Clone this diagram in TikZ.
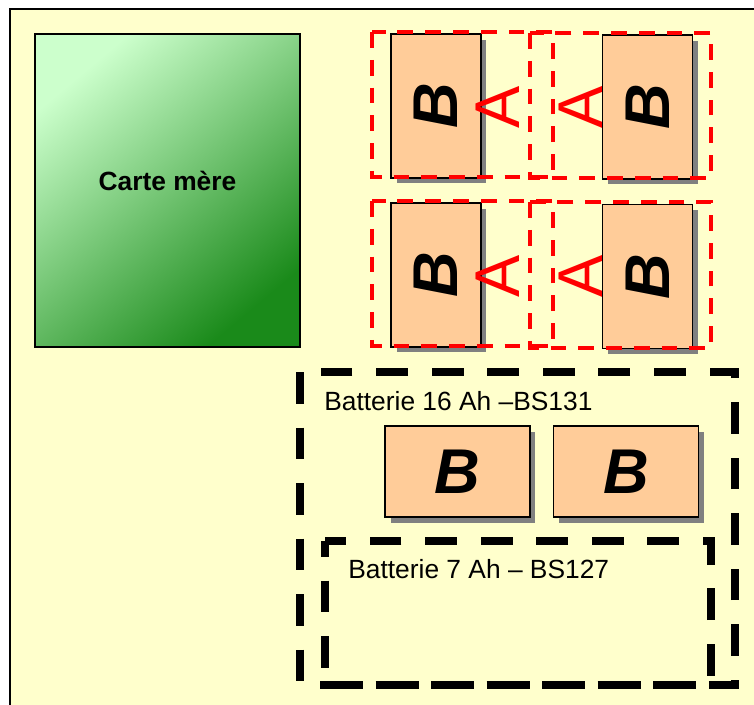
\documentclass[tikz,border=0pt]{standalone}
\usepackage{fontspec}
\setmainfont{Liberation Sans}
\usepackage{graphicx}
\usetikzlibrary{shadows}
\definecolor{cream}{HTML}{FFFFCC}
\definecolor{peach}{HTML}{FFCC99}
\definecolor{boardlight}{HTML}{CCFFCC}
\definecolor{boardmid}{HTML}{96C896}
\definecolor{boarddark}{HTML}{1A8A1A}
\newcommand{\bigfont}{\fontsize{36}{40}\selectfont}

\begin{document}
\begin{tikzpicture}[x=0.02cm, y=-0.02cm,
  cell/.style={draw=black, line width=0.8pt, fill=peach, inner sep=0pt,
    drop shadow={shadow xshift=0.11cm, shadow yshift=-0.11cm, fill=gray, opacity=1},
    font=\bigfont\bfseries\itshape},
  tall/.style={cell, minimum width=1.8cm, minimum height=2.88cm},
  wide/.style={cell, minimum width=2.9cm, minimum height=1.82cm},
  tag/.style={text=red, font=\bigfont, rotate=90, inner sep=0pt},
  zone/.style={draw=red, line width=2pt, dash pattern=on 9pt off 6.8pt},
  pack/.style={draw=black, line width=4pt, dash pattern=on 18pt off 13.6pt},
  packtitle/.style={anchor=base west, inner sep=0pt, font=\fontsize{15}{18}\selectfont}]
\useasboundingbox (0,0) rectangle (754,704);
\clip (0,0) rectangle (754,704);
% background
\fill[cream] (10,9) rectangle (760,710);
\draw[line width=1.2pt] (10,710) -- (10,9) -- (760,9);
% Carte mere
\node[draw=black, line width=0.8pt, minimum width=5.3cm, minimum height=6.26cm,
  top color=boardlight, middle color=boardmid, bottom color=boarddark, shading angle=40] (carte) at (167.5,190.5) {};
\node[anchor=base, inner sep=0pt, font=\fontsize{15}{18}\selectfont\bfseries] (cartetxt) at (167.5,190) {Carte mère};
% Rack du haut
\node[tall] (b1) at (436,106) {\rotatebox{90}{B}};
\node[tall] (b2) at (647.5,107) {\rotatebox{90}{B}};
\node[tall] (b3) at (436,275) {\rotatebox{90}{B}};
\node[tall] (b4) at (647.5,276.5) {\rotatebox{90}{B}};
\node[tag] (a1) at (498,107) {A};
\node[tag] (a2) at (581,107) {A};
\node[tag] (a3) at (498,276) {A};
\node[tag] (a4) at (581,276) {A};
\draw[zone] (372,32) rectangle (553,177);
\draw[zone] (530,33) rectangle (711,178);
\draw[zone] (372,201) rectangle (553,346);
\draw[zone] (530,202) rectangle (711,348);
% Batteries
\draw[pack] (300,372) rectangle (735,685);
\draw[pack, dash phase=9pt] (325,541) rectangle (711,685);
\node[packtitle] (bat16) at (324,410) {Batterie 16 Ah –BS131};
\node[packtitle] (bat7) at (348,578) {Batterie 7 Ah – BS127};
\node[wide] (b5) at (457.5,471.5) {B};
\node[wide] (b6) at (626,471.5) {B};
\end{tikzpicture}
\end{document}
